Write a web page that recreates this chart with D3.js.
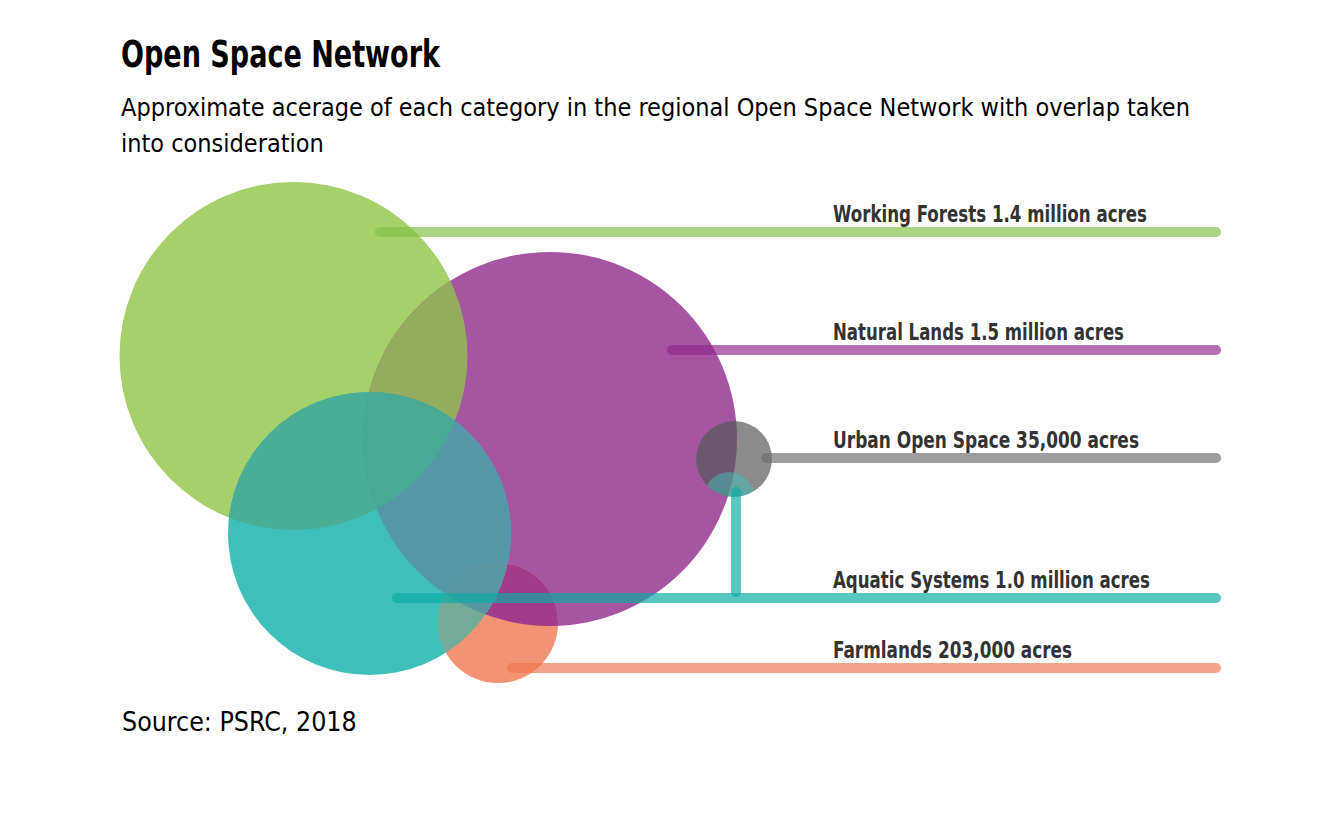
<!DOCTYPE html>
<html>
<head>
<meta charset="utf-8">
<script src="https://cdn.jsdelivr.net/npm/d3@7"></script>
<style>
  html, body { margin: 0; padding: 0; background: #ffffff; }
  svg { display: block; }
  text { font-family: "Liberation Sans Narrow", "DejaVu Sans Condensed", "Arial Narrow", sans-serif; }
</style>
</head>
<body>
<svg id="chart" width="1336" height="831"></svg>
<script>
// ---------------- data ----------------
const title = "Open Space Network";
const subtitleLines = [
  "Approximate acerage of each category in the regional Open Space Network with overlap taken",
  "into consideration"
];
const source = "Source: PSRC, 2018";

const categories = ["Working Forests", "Natural Lands", "Urban Open Space", "Aquatic Systems", "Farmlands"];
const acreLabels = ["1.4 million acres", "1.5 million acres", "35,000 acres", "1.0 million acres", "203,000 acres"];
const acres = [1400000, 1500000, 35000, 1000000, 203000];

// Venn layout (diagram units)
const circleX = [17.35, 43.0, 61.4, 24.95, 37.8];
const circleY = [17.4, 25.7, 27.7, 35.15, 44.1];
const circleR = [17.4, 18.7, 3.8, 14.15, 6.0];
// leader lines (diagram units)
const leaderStart = [26.0, 55.2, 64.6, 27.7, 39.2];
const leaderY = [5.0, 16.8, 27.6, 41.6, 48.6];
const leaderEnd = 109.6;
// Aquatic ∩ Urban overlap marker and connector
const overlapX = 60.9, overlapY = 31.5, overlapR = 2.5;
const connectorX = 61.6, connectorY = [31.0, 41.0];
const labelX = 71.3;

// region colours (as seen in the chart)
const soloColors = ["#a5d06a", "#a655a3", "#8b8b8b", "#3fbfba", "#f29373"];
const overlapSets = [[0, 1], [3, 0], [3, 1], [3, 0, 1], [4, 1], [4, 3], [4, 3, 1], [2, 1]];
const overlapColors = ["#95ac5f", "#4aae96", "#5597a6", "#48aa95", "#a33b8b", "#72ab97", "#5897a2", "#6d566e"];
const lineColors = ["#82c346", "#902a8c", "#6e6e6e", "#0aaca3", "#f07750"];

// ---------------- drawing ----------------
const svg = d3.select("#chart");
const k = 10;
const x = d3.scaleLinear().domain([0, 1]).range([120, 120 + k]);
const y = d3.scaleLinear().domain([0, 1]).range([182, 182 + k]);
const r = d3.scaleLinear().domain([0, 1]).range([0, k]);

svg.append("text")
  .attr("x", 121).attr("y", 67)
  .attr("font-size", 37).attr("font-weight", "bold").attr("fill", "#000")
  .attr("textLength", 319).attr("lengthAdjust", "spacingAndGlyphs")
  .text(title);

svg.selectAll("text.sub").data(subtitleLines).join("text")
  .attr("class", "sub")
  .attr("x", 121).attr("y", (d, i) => 116 + i * 36)
  .attr("font-size", 25).attr("fill", "#000")
  .text(d => d);

const data = categories.map((c, i) => ({ i, name: c, acres: acres[i], label: acreLabels[i] }));

// clip paths, one per circle
const defs = svg.append("defs");
defs.selectAll("clipPath").data(data).join("clipPath")
  .attr("id", d => "clip" + d.i)
  .append("circle")
  .attr("cx", d => x(circleX[d.i]))
  .attr("cy", d => y(circleY[d.i]))
  .attr("r", d => r(circleR[d.i]));

// solo circles
const gCircles = svg.append("g");
gCircles.selectAll("circle").data(data).join("circle")
  .attr("cx", d => x(circleX[d.i]))
  .attr("cy", d => y(circleY[d.i]))
  .attr("r", d => r(circleR[d.i]))
  .attr("fill", d => soloColors[d.i]);

// overlap regions
overlapSets.forEach((set, j) => {
  let g = gCircles;
  set.slice(1).forEach(c => { g = g.append("g").attr("clip-path", `url(#clip${c})`); });
  const b = set[0];
  g.append("circle")
    .attr("cx", x(circleX[b])).attr("cy", y(circleY[b])).attr("r", r(circleR[b]))
    .attr("fill", overlapColors[j]);
});

// aquatic marker inside urban circle
svg.append("circle")
  .attr("clip-path", "url(#clip2)")
  .attr("cx", x(overlapX)).attr("cy", y(overlapY)).attr("r", r(overlapR))
  .attr("fill", soloColors[3]).attr("fill-opacity", 0.5);

// leader lines
const gLines = svg.append("g")
  .attr("stroke-linecap", "round").attr("stroke-width", 10);
gLines.selectAll("line.leader").data(data).join("line")
  .attr("class", "leader")
  .attr("x1", d => x(leaderStart[d.i])).attr("x2", x(leaderEnd))
  .attr("y1", d => y(leaderY[d.i])).attr("y2", d => y(leaderY[d.i]))
  .attr("stroke", d => lineColors[d.i])
  .attr("stroke-opacity", 0.68);
gLines.append("line")
  .attr("x1", x(connectorX)).attr("x2", x(connectorX))
  .attr("y1", y(connectorY[0])).attr("y2", y(connectorY[1]))
  .attr("stroke", lineColors[3]).attr("stroke-opacity", 0.68);

// labels
const labelWidths = [314, 291, 306, 317, 239];
svg.selectAll("text.lab").data(data).join("text")
  .attr("class", "lab")
  .attr("x", x(labelX))
  .attr("y", d => y(leaderY[d.i]) - 10)
  .attr("font-size", 23).attr("font-weight", "bold").attr("fill", "#333")
  .attr("textLength", d => labelWidths[d.i]).attr("lengthAdjust", "spacingAndGlyphs")
  .text(d => d.name + " " + d.label);

svg.append("text")
  .attr("x", 122).attr("y", 731)
  .attr("font-size", 26.5).attr("fill", "#000")
  .text(source);
</script>
</body>
</html>
